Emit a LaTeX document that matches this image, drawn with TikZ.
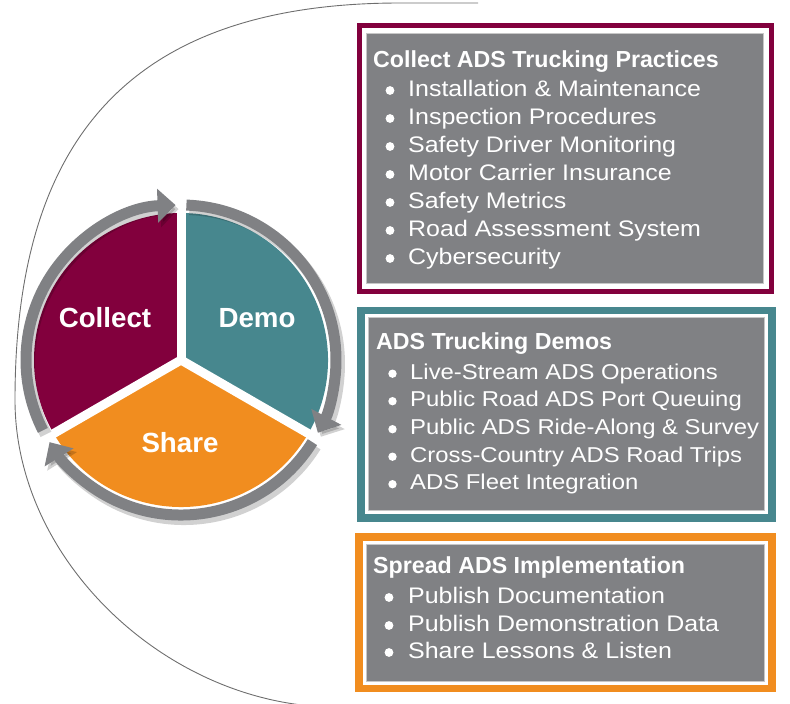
\documentclass[tikz,border=0pt]{standalone}
\usepackage{fontspec}
\setmainfont{Liberation Sans}
\newfontfamily\itemfont[FakeStretch=1.11]{Liberation Sans}
\usetikzlibrary{arrows.meta}
\definecolor{cMaroon}{HTML}{82003D}
\definecolor{cTeal}{HTML}{47878E}
\definecolor{cOrange}{HTML}{F18D1F}
\definecolor{cBox}{HTML}{808184}
\definecolor{cRing}{HTML}{808184}
\definecolor{cLine}{HTML}{6E6E6E}
\tikzset{
  ringarrow/.style={draw=cRing, line width=11pt, -{Triangle[width=33pt,length=18pt]}},
  ringshadow/.style={draw=black, opacity=0.18, line width=12pt, -{Triangle[width=34pt,length=18pt]}},
  lbl/.style={text=white, inner sep=0pt, font=\fontsize{27.7}{30}\selectfont\bfseries},
  ttl/.style={text=white, inner sep=0pt, anchor=base west, font=\fontsize{23.2}{26}\selectfont\bfseries},
  itm/.style={text=white, inner sep=0pt, anchor=base west, font=\itemfont\fontsize{22.5}{26}\selectfont},
  itmb/.style={itm, font=\itemfont\fontsize{21.5}{26}\selectfont},
  bul/.style={fill=white},
  graybox/.style={fill=cBox, draw=black!22, line width=0.8pt}
}
\begin{document}
\begin{tikzpicture}[x=1pt,y=-1pt]
\useasboundingbox (0,0) rectangle (790,704);
% big outline curve
\draw[cLine, line width=0.9pt] (478,3) -- (400,3)
  .. controls (120,3) and (15,150) .. (15,400)
  .. controls (15,560) and (165,702) .. (328,707);

% cycle
\begin{scope}[shift={(181,360)}, y=1pt]
  \fill[cMaroon] (0,0) -- (90:147) arc[start angle=90,end angle=210,radius=147] -- cycle;
  \fill[cTeal] (0,0) -- (-30:147) arc[start angle=-30,end angle=90,radius=147] -- cycle;
  \fill[cOrange] (0,0) -- (210:147) arc[start angle=210,end angle=330,radius=147] -- cycle;
  \draw[white, line width=9pt] (0,0) -- (90:152);
  \draw[white, line width=9pt] (0,0) -- (210:152);
  \draw[white, line width=9pt] (0,0) -- (330:152);
  \begin{scope}[shift={(3,-4)}]
    \draw[ringshadow] (207:155) arc[start angle=207,end angle=92,radius=155];
    \draw[ringshadow] (88:155) arc[start angle=88,end angle=-28,radius=155];
    \draw[ringshadow] (-32:155) arc[start angle=-32,end angle=-148,radius=155];
  \end{scope}
  \draw[ringarrow] (207:155) arc[start angle=207,end angle=92,radius=155];
  \draw[ringarrow] (88:155) arc[start angle=88,end angle=-28,radius=155];
  \draw[ringarrow] (-32:155) arc[start angle=-32,end angle=-148,radius=155];
\end{scope}
\node[lbl] (collect) at (105,318) {Collect};
\node[lbl] (demo) at (257,318) {Demo};
\node[lbl] (share) at (180,443) {Share};

% box 1
\fill[cMaroon] (357,23) rectangle (773.5,293.5);
\fill[white] (362,28) rectangle (768.5,288.5);
\path[graybox] (366.5,33) rectangle (763.5,283.5);
\node[ttl] (t1) at (373,67) {Collect ADS Trucking Practices};
\foreach \y/\t [count=\i] in {96/{Installation \& Maintenance},124/{Inspection Procedures},152/{Safety Driver Monitoring},180/{Motor Carrier Insurance},208/{Safety Metrics},236/{Road Assessment System},264/{Cybersecurity}}{
  \fill[bul] (390,\y-5.5) circle (4.4);
  \node[itm] (a\i) at (408,\y) {\t};
}

% box 2
\fill[cTeal] (357,306.7) rectangle (775.5,521.7);
\fill[white] (364.7,314.4) rectangle (767.8,514);
\path[graybox] (368,317.7) rectangle (764.5,510.7);
\node[ttl] (t2) at (376,349) {ADS Trucking Demos};
\foreach \y/\t [count=\i] in {379/{Live-Stream ADS Operations},406.5/{Public Road ADS Port Queuing},434.5/{Public ADS Ride-Along \& Survey},462/{Cross-Country ADS Road Trips},489.5/{ADS Fleet Integration}}{
  \fill[bul] (392.5,\y-5.3) circle (4.2);
  \node[itmb] (b\i) at (410,\y) {\t};
}

% box 3
\fill[cOrange] (355,533.3) rectangle (776,691.7);
\fill[white] (363,541) rectangle (768,685);
\path[graybox] (366.7,544) rectangle (764.3,681.7);
\node[ttl] (t3) at (373,573) {Spread ADS Implementation};
\foreach \y/\t [count=\i] in {603/{Publish Documentation},631/{Publish Demonstration Data},658/{Share Lessons \& Listen}}{
  \fill[bul] (389,\y-5.5) circle (4.4);
  \node[itm] (c\i) at (408,\y) {\t};
}
\end{tikzpicture}
\end{document}
